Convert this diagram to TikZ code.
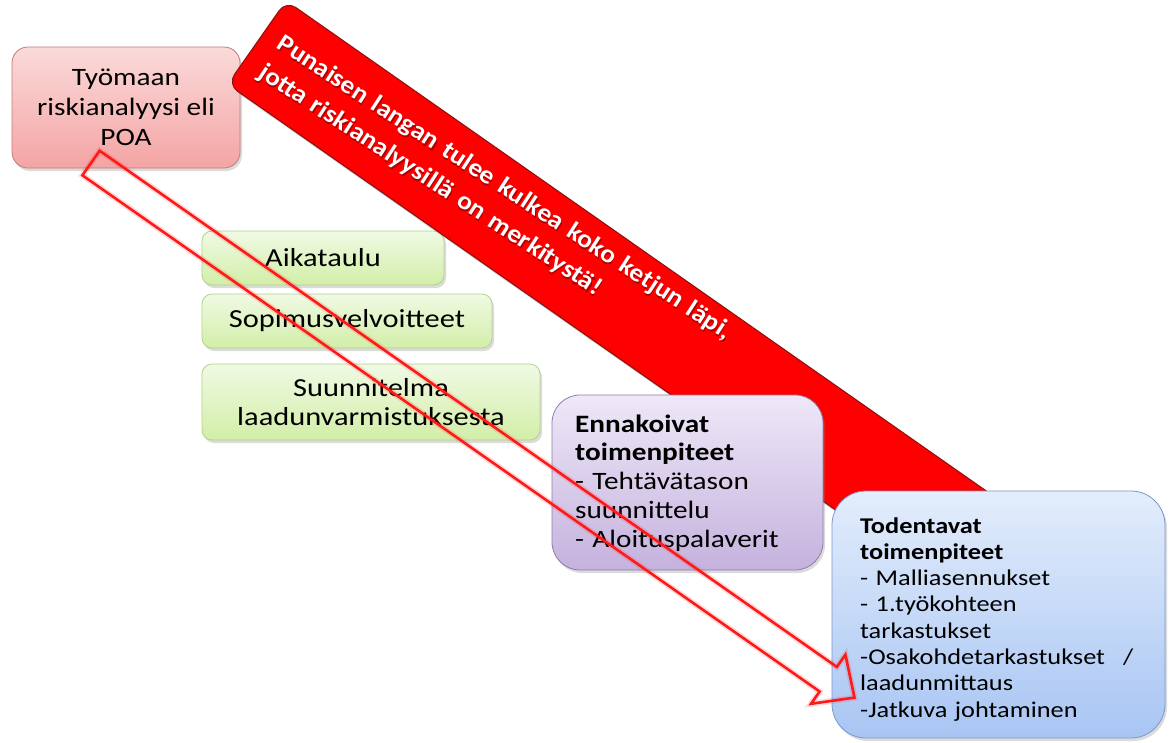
\documentclass[tikz,border=0pt]{standalone}
\usepackage{fontspec}
\setmainfont{Carlito}[FakeStretch=1.17]
\newfontfamily\bannerfont{Carlito}[FakeStretch=1.08]
\usetikzlibrary{shadows,calc}

\definecolor{pinktop}{HTML}{FBDADA}
\definecolor{pinkbot}{HTML}{F4A4A4}
\definecolor{pinkline}{HTML}{C57A7A}
\definecolor{greentop}{HTML}{F0FAE4}
\definecolor{greenbot}{HTML}{D2EEA8}
\definecolor{greenline}{HTML}{B3D28A}
\definecolor{violettop}{HTML}{EEE8F7}
\definecolor{violetbot}{HTML}{C5B2DE}
\definecolor{violetline}{HTML}{8E7CAC}
\definecolor{bluetop}{HTML}{E3EDFC}
\definecolor{bluebot}{HTML}{A8C5F3}
\definecolor{blueline}{HTML}{7B98CA}
\definecolor{bandred}{HTML}{FF0000}
\definecolor{banddark}{HTML}{B80000}
\definecolor{bandline}{HTML}{8A1010}
\definecolor{arrowred}{HTML}{FF1A1A}

\begin{document}
\begin{tikzpicture}[x=1pt,y=-1pt,
  roundbox/.style={draw, line width=0.8pt, inner sep=0pt,
    drop shadow={opacity=0.28, shadow xshift=2pt, shadow yshift=-3pt}},
  pinkbox/.style={roundbox, rounded corners=16pt, top color=pinktop,
    bottom color=pinkbot, draw=pinkline, align=center,
    font=\fontsize{25}{30}\selectfont},
  greenbox/.style={roundbox, rounded corners=10pt, top color=greentop,
    bottom color=greenbot, draw=greenline, align=center,
    font=\fontsize{26}{29}\selectfont},
  violetbox/.style={roundbox, rounded corners=28pt, top color=violettop,
    bottom color=violetbot, draw=violetline},
  bluebox/.style={roundbox, rounded corners=34pt, top color=bluetop,
    bottom color=bluebot, draw=blueline},
  listtext/.style={inner sep=0pt, anchor=base west, align=left},
  band/.style={draw=bandline, line width=1pt, rounded corners=12pt,
    inner sep=0pt, left color=bandred, middle color=banddark,
    right color=bandred,
    drop shadow={opacity=0.35, shadow xshift=2pt, shadow yshift=-3pt}},
  bandtext/.style={inner sep=0pt, anchor=base west, align=left,
    text width=700pt, text=white,
    font=\bannerfont\bfseries\fontsize{25.3}{34}\selectfont},
  hollowarrow/.style={draw=arrowred, line width=2.6pt, line join=miter,
    preaction={draw=arrowred, line width=6pt, opacity=0.15}}
]
\useasboundingbox (0,0) rectangle (1173,742);
\fill[white] (0,0) rectangle (1173,742);

% risk analysis box
\node[pinkbox, minimum width=228pt, minimum height=121pt] (poa) at (126,107.5)
  {Työmaan\\riskianalyysi eli\\POA};

% planning inputs
\node[greenbox, minimum width=242pt, minimum height=54pt] (aika) at (323,258) {Aikataulu};
\node[greenbox, minimum width=290pt, minimum height=54pt] (sopimus) at (347,321) {Sopimusvelvoitteet};
\node[greenbox, minimum width=338pt, minimum height=76pt] (suunn) at (371,402)
  {Suunnitelma\\laadunvarmistuksesta};

% diagonal red band with its message (dark copy underneath gives the text shadow)
\begin{scope}[shift={(286,0)}, rotate=-35, transform shape]
  \node[band, anchor=north west, minimum width=900pt, minimum height=102pt] (bandbox) at (0,0) {};
  \node[bandtext, rotate=2, text=black, opacity=0.3] (bandshade) at (20.5,46.5)
    {Punaisen langan tulee kulkea koko ketjun läpi,\\jotta riskianalyysillä on merkitystä!};
  \node[bandtext, rotate=2] (bandmsg) at (19,45)
    {Punaisen langan tulee kulkea koko ketjun läpi,\\jotta riskianalyysillä on merkitystä!};
\end{scope}

% preventive measures
\node[violetbox, minimum width=271pt, minimum height=175pt] (ennbox) at (687.5,482.5) {};
\node[listtext, text width=240pt, font=\fontsize{25}{28.8}\selectfont] (enntxt) at (575,432)
  {\textbf{Ennakoivat}\\\textbf{toimenpiteet}\\- Tehtävätason\\suunnittelu\\- Aloituspalaverit};

% verifying measures
\node[bluebox, minimum width=333pt, minimum height=247pt] (todbox) at (998.5,614.5) {};
\node[listtext, text width=300pt, font=\fontsize{22.5}{26.3}\selectfont] (todtxt) at (860,533)
  {\textbf{Todentavat}\\\textbf{toimenpiteet}\\- Malliasennukset\\- 1.työkohteen\\tarkastukset\\-Osakohdetarkastukset\hspace{0.8em}/\\laadunmittaus\\-Jatkuva johtaminen};

% hollow block arrow from the risk analysis to the verifying measures
\coordinate (arrtail) at (91,163);
\begin{scope}[shift={(arrtail)}, rotate=-35]
  \coordinate (arrtip) at (932,0);
  \draw[hollowarrow] (0,-15) -- (900,-15) -- (900,-30) -- (arrtip)
    -- (900,30) -- (900,15) -- (0,15) -- cycle;
\end{scope}
\end{tikzpicture}
\end{document}
